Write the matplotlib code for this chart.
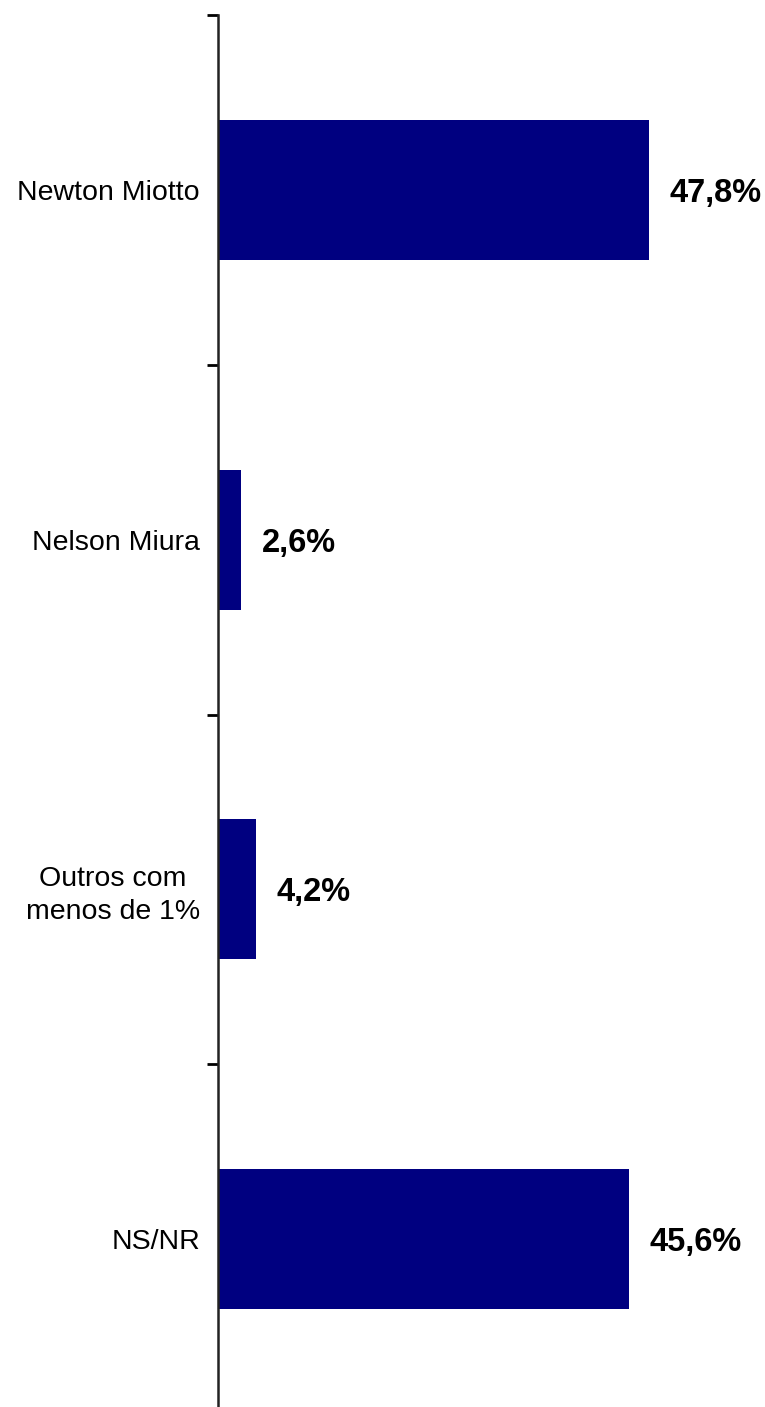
import matplotlib
matplotlib.use("Agg")
import matplotlib.pyplot as plt
import numpy as np

# Dados da pesquisa
categorias = ["Newton Miotto", "Nelson Miura", "Outros com\nmenos de 1%", "NS/NR"]
valores = [47.8, 2.6, 4.2, 45.6]
rotulos = ["47,8%", "2,6%", "4,2%", "45,6%"]

plt.rcParams['font.family'] = ['Liberation Sans', 'DejaVu Sans']

W, H = 765, 1407
fig = plt.figure(figsize=(W / 100, H / 100), dpi=100)
ax = fig.add_axes([218 / W, -7 / H, 1 - 218 / W, 1399 / H])

y = np.arange(len(categorias))
ax.barh(y, valores, height=0.4, color='#000080')

for yi, v, t in zip(y, valores, rotulos):
    ax.annotate(t, xy=(v, yi), xytext=(14.5, 0), textcoords='offset points',
                ha='left', va='center_baseline', fontsize=23.5, fontweight='bold')

ax.set_xlim(0, (W - 218) / 9.02)
ax.set_ylim(len(categorias) - 0.5, -0.5)

# Rótulos das categorias
ax.set_yticks(y)
ax.set_yticklabels(categorias, fontsize=20.5, multialignment='center', linespacing=1.35)
ax.tick_params(axis='y', which='major', length=0, pad=13)

# Marcas nos limites das categorias
ax.set_yticks(np.arange(-0.5, len(categorias) - 0.5, 1), minor=True)
ax.tick_params(axis='y', which='minor', length=8, width=2, direction='out')

ax.set_xticks([])
for s in ['top', 'right', 'bottom']:
    ax.spines[s].set_visible(False)
ax.spines['left'].set_linewidth(1.8)
ax.spines['left'].set_color('#222222')

fig.savefig("out.png", dpi=100, facecolor='white')
